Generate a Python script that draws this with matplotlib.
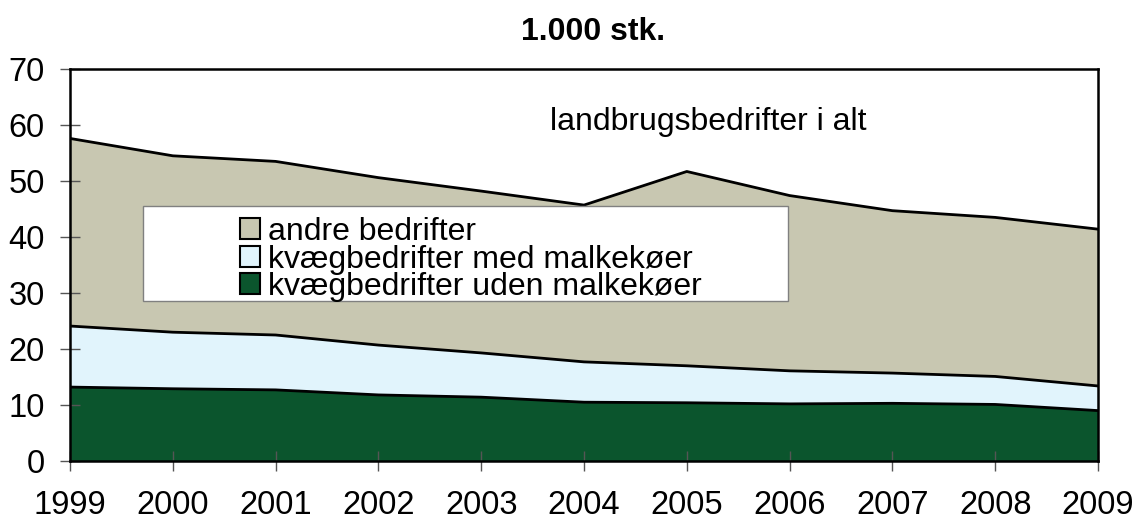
import matplotlib
matplotlib.use("Agg")
import numpy as np
import matplotlib.pyplot as plt
from matplotlib.patches import Patch, Rectangle

plt.rcParams['font.family'] = ['Liberation Sans', 'DejaVu Sans']

# Data (1.000 stk.)
aar = [1999, 2000, 2001, 2002, 2003, 2004, 2005, 2006, 2007, 2008, 2009]
uden_malkekoer = [13.2, 12.9, 12.7, 11.8, 11.4, 10.5, 10.4, 10.2, 10.3, 10.1, 9.0]
med_malkekoer = [10.9, 10.1, 9.8, 8.9, 7.9, 7.2, 6.6, 5.9, 5.4, 5.0, 4.4]
andre_bedrifter = [33.5, 31.5, 31.0, 29.9, 28.9, 28.0, 34.7, 31.3, 29.0, 28.4, 28.0]

labels = ["andre bedrifter", "kvægbedrifter med malkekøer", "kvægbedrifter uden malkekøer"]
farver = {"andre": "#C8C7B1", "med": "#E1F4FC", "uden": "#0B552D"}

fig = plt.figure(figsize=(11.37, 5.19), dpi=100)
ax = fig.add_axes([70 / 1137, 58 / 519, 1028 / 1137, 392 / 519])

ax.stackplot(aar, uden_malkekoer, med_malkekoer, andre_bedrifter,
             colors=[farver["uden"], farver["med"], farver["andre"]], lw=0)

# linjer oven paa hvert lag
niv1 = np.array(uden_malkekoer)
niv2 = niv1 + np.array(med_malkekoer)
niv3 = niv2 + np.array(andre_bedrifter)
for niv in (niv1, niv2, niv3):
    ax.plot(aar, niv, color="black", lw=2.0, zorder=2)

ax.set_xlim(1999, 2009)
ax.set_ylim(0, 70)
ax.set_xticks(aar)
ax.set_yticks(range(0, 71, 10))
ax.tick_params(axis="both", direction="inout", length=14, width=1,
               color="#555555", labelsize=23.5)
ax.tick_params(axis="y", pad=11)
ax.tick_params(axis="x", pad=14)
for s in ax.spines.values():
    s.set_linewidth(1.8)
    s.set_color("black")
    s.set_zorder(4)

ax.text(2003.67, 59.1, "landbrugsbedrifter i alt", fontsize=23,
        ha="left", va="baseline")

fig.text(593 / 1137, (519 - 40) / 519, "1.000 stk.", fontsize=23,
         fontweight="bold", ha="center", va="baseline")

# legend-boks
ax.add_patch(Rectangle((0.071, 0.408), 0.627, 0.243, transform=ax.transAxes,
                       facecolor="white", edgecolor="#808080", lw=1, zorder=5))
handles = [Patch(facecolor=farver["andre"], edgecolor="black", lw=1.5),
           Patch(facecolor=farver["med"], edgecolor="black", lw=1.5),
           Patch(facecolor=farver["uden"], edgecolor="black", lw=1.5)]
leg = ax.legend(handles, labels, loc="upper left", bbox_to_anchor=(0.150, 0.663),
                frameon=False, fontsize=23, borderpad=0, handlelength=0.63,
                handleheight=0.63, handletextpad=0.25, labelspacing=-0.08)
leg.set_zorder(6)

fig.savefig("out.png", dpi=100)
plt.close("all")
